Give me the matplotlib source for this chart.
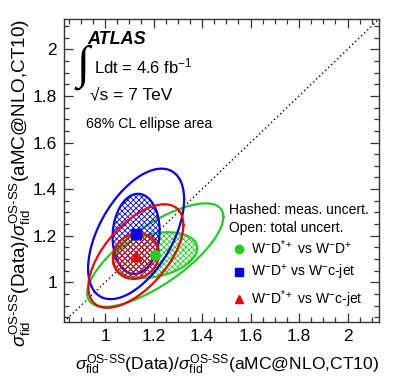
import numpy as np
import matplotlib
matplotlib.use("Agg")
import matplotlib.pyplot as plt
from matplotlib.lines import Line2D

plt.rcParams['font.family'] = ['Liberation Sans', 'DejaVu Sans']
plt.rcParams['mathtext.fontset'] = 'custom'
plt.rcParams['mathtext.rm'] = 'Liberation Sans'
plt.rcParams['mathtext.it'] = 'Liberation Sans:italic'
plt.rcParams['mathtext.bf'] = 'Liberation Sans:bold'
plt.rcParams['hatch.linewidth'] = 0.6

# measured ratios (data / aMC@NLO) for each pair of channels
names = ['W$^{-}$D$^{*+}$ vs W$^{-}$D$^{+}$',
         'W$^{-}$D$^{+}$ vs W$^{-}$c-jet',
         'W$^{-}$D$^{*+}$ vs W$^{-}$c-jet']
colours = ['#22cc22', '#0000ee', '#ee0000']
markers = ['o', 's', '^']
centre_x = [1.207, 1.128, 1.127]
centre_y = [1.117, 1.208, 1.113]

# 68% CL ellipses: half extents along x / y and correlation
# total uncertainty (open)
tot_sx = [0.281, 0.198, 0.196]
tot_sy = [0.222, 0.280, 0.222]
tot_rho = [0.74, 0.53, 0.60]
# measurement uncertainty (hashed)
meas_sx = [0.173, 0.097, 0.095]
meas_sy = [0.098, 0.172, 0.098]
meas_rho = [0.30, 0.08, 0.10]


def ellipse(cx, cy, sx, sy, rho, n=200):
    t = np.linspace(0, 2 * np.pi, n)
    x = cx + sx * np.cos(t)
    y = cy + sy * (rho * np.cos(t) + np.sqrt(1 - rho ** 2) * np.sin(t))
    return x, y


fig = plt.figure(figsize=(3.99, 3.84), dpi=100)
ax = fig.add_axes([0.160, 0.1615, 0.790, 0.789])
ax.set_xlim(0.83, 2.13)
ax.set_ylim(0.83, 2.13)

ax.axline((1, 1), slope=1, color='black', lw=1, ls=(0, (1, 2)), zorder=1)

for i in range(3):
    ex, ey = ellipse(centre_x[i], centre_y[i], meas_sx[i], meas_sy[i], meas_rho[i])
    ax.fill(ex, ey, facecolor='none', edgecolor=colours[i], hatch='xxxxxx',
            lw=1.6, zorder=2 + i)
    ex, ey = ellipse(centre_x[i], centre_y[i], tot_sx[i], tot_sy[i], tot_rho[i])
    ax.plot(ex, ey, color=colours[i], lw=1.6, zorder=2 + i)

for i in range(3):
    ax.plot(centre_x[i], centre_y[i], marker=markers[i], color=colours[i],
            ms=7, ls='none', zorder=10)

# axes style
ax.set_xticks([1, 1.2, 1.4, 1.6, 1.8, 2])
ax.set_xticklabels(['1', '1.2', '1.4', '1.6', '1.8', '2'])
ax.set_yticks([1, 1.2, 1.4, 1.6, 1.8, 2])
ax.set_yticklabels(['1', '1.2', '1.4', '1.6', '1.8', '2'])
ax.set_xticks(np.arange(0.85, 2.13, 0.05), minor=True)
ax.set_yticks(np.arange(0.85, 2.13, 0.05), minor=True)
ax.tick_params(which='both', direction='in', top=True, right=True,
               labelsize=12.5, color='#333333', pad=5)
ax.tick_params(which='major', length=6.5, width=0.9)
ax.tick_params(which='minor', length=3.5, width=0.9)
for s in ax.spines.values():
    s.set_color('#333333')
    s.set_linewidth(1.0)

lab = r'$\sigma_{\rm fid}^{\rm OS\text{-}SS}$(Data)/$\sigma_{\rm fid}^{\rm OS\text{-}SS}$(aMC@NLO,CT10)'
ax.set_xlabel(lab, fontsize=12.6, loc='right', labelpad=6)
ax.set_ylabel(lab, fontsize=13.6, loc='top', labelpad=0)

# labels
ax.text(0.076, 0.932, 'ATLAS', transform=ax.transAxes, fontsize=13,
        fontweight='bold', fontstyle='italic', va='center')
ax.text(0.04, 0.842, '\u222b', transform=ax.transAxes, fontsize=34,
        family='Liberation Serif', va='center')
ax.text(0.095, 0.845, 'Ldt = 4.6 fb$^{-1}$', transform=ax.transAxes,
        fontsize=12, va='center')
ax.text(0.082, 0.748, '\u221as = 7 TeV', transform=ax.transAxes,
        fontsize=12.5, va='center')
ax.text(0.07, 0.652, '68% CL ellipse area', transform=ax.transAxes,
        fontsize=10.2, va='center')

handles = [Line2D([], [], marker=markers[i], color=colours[i], ls='none', ms=6)
           for i in range(3)]
leg = ax.legend(handles, names, title='Hashed: meas. uncert.\nOpen: total uncert.',
                loc='upper left', bbox_to_anchor=(0.505, 0.41), frameon=False,
                fontsize=10, title_fontsize=10, alignment='left',
                handletextpad=0.1, labelspacing=0.45, handlelength=1.5,
                borderaxespad=0)
leg.get_title().set_linespacing(1.35)
leg._legend_box.sep = 2

fig.savefig('out.png', dpi=100)
